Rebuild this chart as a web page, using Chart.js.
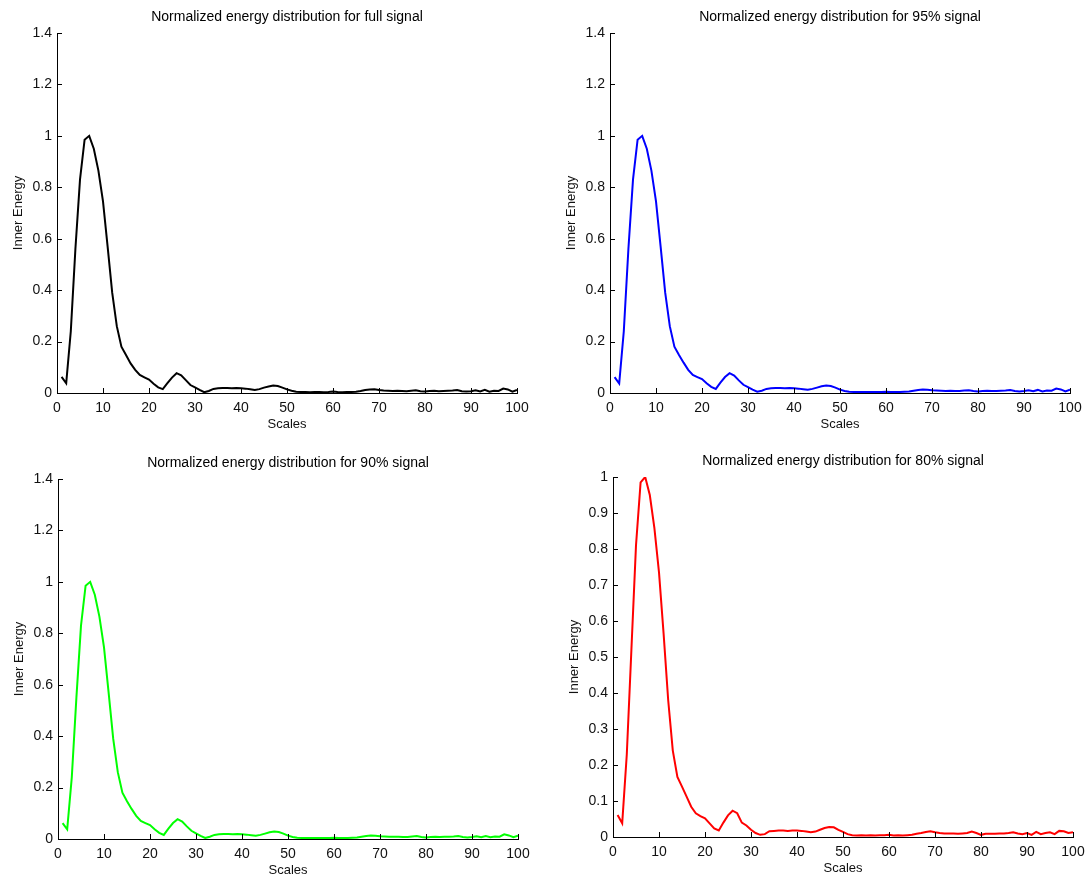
<!DOCTYPE html>
<html>
<head>
<meta charset="utf-8">
<title>Normalized energy distribution</title>
<script src="https://cdn.jsdelivr.net/npm/chart.js@4"></script>
<style>
  html, body { margin: 0; padding: 0; background: #fff; overflow: hidden; }
  body { width: 1088px; height: 878px; position: relative; }
  .panel { position: absolute; }
</style>
</head>
<body>
<div class="panel" style="left:0px;top:0px"><canvas id="c1" width="532" height="438"></canvas></div>
<div class="panel" style="left:553px;top:0px"><canvas id="c2" width="532" height="438"></canvas></div>
<div class="panel" style="left:1px;top:446px"><canvas id="c3" width="532" height="438"></canvas></div>
<div class="panel" style="left:556px;top:444px"><canvas id="c4" width="532" height="438"></canvas></div>
<script>
//-----------------------------------------
//  DATA
//-----------------------------------------

const scales = [
  1, 2, 3, 4, 5, 6, 7, 8, 9, 10, 11, 12, 13, 14, 15, 16, 17, 18, 19, 20,
  21, 22, 23, 24, 25, 26, 27, 28, 29, 30, 31, 32, 33, 34, 35, 36, 37, 38, 39, 40,
  41, 42, 43, 44, 45, 46, 47, 48, 49, 50, 51, 52, 53, 54, 55, 56, 57, 58, 59, 60,
  61, 62, 63, 64, 65, 66, 67, 68, 69, 70, 71, 72, 73, 74, 75, 76, 77, 78, 79, 80,
  81, 82, 83, 84, 85, 86, 87, 88, 89, 90, 91, 92, 93, 94, 95, 96, 97, 98, 99, 100
];

const fullSignal = [
  0.063, 0.038, 0.24, 0.56, 0.83, 0.985, 1.0, 0.95, 0.865, 0.745,
  0.57, 0.39, 0.26, 0.18, 0.148, 0.115, 0.09, 0.07, 0.061, 0.052,
  0.036, 0.022, 0.015, 0.038, 0.06, 0.077, 0.069, 0.05, 0.031, 0.022,
  0.012, 0.003, 0.008, 0.016, 0.018, 0.019, 0.019, 0.018, 0.019, 0.018,
  0.017, 0.015, 0.012, 0.015, 0.021, 0.025, 0.029, 0.027, 0.021, 0.014,
  0.009, 0.005, 0.004, 0.004, 0.003, 0.004, 0.004, 0.003, 0.004, 0.006,
  0.004, 0.003, 0.004, 0.004, 0.005, 0.008, 0.012, 0.014, 0.015, 0.012,
  0.010, 0.009, 0.008, 0.009, 0.008, 0.007, 0.009, 0.011, 0.007, 0.006,
  0.008, 0.009, 0.007, 0.008, 0.009, 0.010, 0.012, 0.007, 0.006, 0.007,
  0.011, 0.006, 0.012, 0.005, 0.009, 0.008, 0.017, 0.014, 0.005, 0.012
];

const signal95 = [
  0.062, 0.037, 0.24, 0.56, 0.83, 0.985, 1.0, 0.95, 0.865, 0.745,
  0.57, 0.39, 0.26, 0.18, 0.148, 0.118, 0.09, 0.07, 0.062, 0.054,
  0.038, 0.024, 0.016, 0.04, 0.062, 0.077, 0.068, 0.049, 0.032, 0.023,
  0.013, 0.005, 0.009, 0.016, 0.018, 0.019, 0.019, 0.018, 0.019, 0.018,
  0.017, 0.015, 0.013, 0.016, 0.021, 0.026, 0.029, 0.027, 0.021, 0.013,
  0.008, 0.005, 0.004, 0.004, 0.004, 0.004, 0.004, 0.004, 0.004, 0.005,
  0.004, 0.004, 0.004, 0.005, 0.006, 0.009, 0.012, 0.014, 0.013, 0.011,
  0.010, 0.009, 0.008, 0.009, 0.008, 0.008, 0.010, 0.011, 0.008, 0.006,
  0.008, 0.009, 0.008, 0.008, 0.009, 0.010, 0.012, 0.008, 0.006, 0.008,
  0.011, 0.007, 0.012, 0.006, 0.010, 0.009, 0.017, 0.014, 0.006, 0.013
];

const signal90 = [
  0.062, 0.038, 0.24, 0.55, 0.83, 0.985, 1.0, 0.95, 0.865, 0.745,
  0.57, 0.39, 0.26, 0.18, 0.147, 0.117, 0.09, 0.07, 0.062, 0.054,
  0.038, 0.024, 0.016, 0.04, 0.062, 0.077, 0.068, 0.049, 0.032, 0.022,
  0.012, 0.004, 0.009, 0.016, 0.018, 0.019, 0.019, 0.018, 0.019, 0.018,
  0.017, 0.015, 0.013, 0.016, 0.021, 0.026, 0.029, 0.027, 0.021, 0.013,
  0.008, 0.005, 0.004, 0.004, 0.004, 0.004, 0.004, 0.004, 0.004, 0.005,
  0.004, 0.004, 0.004, 0.005, 0.006, 0.009, 0.012, 0.014, 0.013, 0.011,
  0.010, 0.009, 0.009, 0.009, 0.008, 0.008, 0.010, 0.012, 0.008, 0.006,
  0.008, 0.009, 0.008, 0.009, 0.009, 0.010, 0.012, 0.008, 0.006, 0.008,
  0.011, 0.007, 0.012, 0.007, 0.010, 0.009, 0.018, 0.014, 0.007, 0.013
];

const signal80 = [
  0.061, 0.038, 0.23, 0.52, 0.81, 0.985, 1.0, 0.95, 0.858, 0.735,
  0.565, 0.38, 0.24, 0.167, 0.14, 0.112, 0.084, 0.066, 0.058, 0.052,
  0.038, 0.024, 0.018, 0.04, 0.06, 0.073, 0.066, 0.04, 0.032, 0.02,
  0.011, 0.006, 0.008, 0.016, 0.017, 0.018, 0.018, 0.017, 0.018, 0.018,
  0.017, 0.015, 0.013, 0.015, 0.02, 0.025, 0.028, 0.027, 0.02, 0.014,
  0.008, 0.005, 0.004, 0.005, 0.004, 0.005, 0.004, 0.005, 0.005, 0.006,
  0.004, 0.005, 0.004, 0.005, 0.006, 0.009, 0.011, 0.014, 0.016, 0.013,
  0.011, 0.010, 0.010, 0.010, 0.009, 0.010, 0.011, 0.015, 0.011, 0.006,
  0.009, 0.009, 0.009, 0.010, 0.010, 0.011, 0.013, 0.010, 0.008, 0.011,
  0.006, 0.014, 0.008, 0.011, 0.013, 0.008, 0.017, 0.016, 0.011, 0.013
];

const xTicks = [0, 10, 20, 30, 40, 50, 60, 70, 80, 90, 100];
const yTicksWide = [0, 0.2, 0.4, 0.6, 0.8, 1, 1.2, 1.4];
const yTicksFine = [0, 0.1, 0.2, 0.3, 0.4, 0.5, 0.6, 0.7, 0.8, 0.9, 1];

const panelTitles = [
  'Normalized energy distribution for full signal',
  'Normalized energy distribution for 95% signal',
  'Normalized energy distribution for 90% signal',
  'Normalized energy distribution for 80% signal'
];

//-----------------------------------------
//  MATLAB-ish look: inward ticks, title over plot
//-----------------------------------------

const FONT = '"Liberation Sans", Arial, sans-serif';
Chart.defaults.font.family = FONT;
Chart.defaults.font.size = 13;
Chart.defaults.color = '#111';

const matlabAxes = {
  id: 'matlabAxes',
  afterDraw(chart, args, opts) {
    const ctx = chart.ctx;
    const xs = chart.scales.x;
    const ys = chart.scales.y;
    const area = chart.chartArea;

    ctx.save();
    ctx.strokeStyle = '#000';
    ctx.lineWidth = 1;
    ctx.beginPath();
    xs.ticks.forEach(t => {
      const px = Math.round(xs.getPixelForValue(t.value)) + 0.5;
      ctx.moveTo(px, area.bottom);
      ctx.lineTo(px, area.bottom - 5);
    });
    ys.ticks.forEach(t => {
      const py = Math.round(ys.getPixelForValue(t.value)) + 0.5;
      ctx.moveTo(area.left, py);
      ctx.lineTo(area.left + 5, py);
    });
    ctx.stroke();

    // title centred on the plot box, not on the canvas
    ctx.fillStyle = '#000';
    ctx.font = '14px ' + FONT;
    ctx.textAlign = 'center';
    ctx.textBaseline = 'middle';
    ctx.fillText(opts.text, (area.left + area.right) / 2, 17);
    ctx.restore();
  }
};

function makePanel(canvasId, title, values, color, yTicks, yMax) {
  const points = scales.map((s, i) => ({ x: s, y: values[i] }));

  return new Chart(document.getElementById(canvasId), {
    type: 'line',
    data: {
      datasets: [{
        data: points,
        borderColor: color,
        borderWidth: 2,
        pointRadius: 0,
        tension: 0,
        fill: false
      }]
    },
    options: {
      responsive: false,
      animation: false,
      layout: { padding: { top: 33, right: 15, left: 0, bottom: 0 } },
      plugins: {
        legend: { display: false },
        tooltip: { enabled: false },
        title: { display: false },
        matlabAxes: { text: title }
      },
      scales: {
        x: {
          type: 'linear',
          min: 0,
          max: 100,
          afterBuildTicks: s => { s.ticks = xTicks.map(v => ({ value: v })); },
          afterFit: s => {
            s.height = 45;
            s.paddingLeft = 0;
            s.paddingRight = 0;
          },
          grid: { display: false, drawTicks: false },
          border: { display: true, color: '#000', width: 1 },
          ticks: {
            padding: 7, color: '#111', font: { size: 14 },
            minRotation: 0, maxRotation: 0, autoSkip: false,
            callback: v => String(v)
          },
          title: {
            display: true,
            text: 'Scales',
            color: '#111',
            padding: { top: 0, bottom: 6 }
          }
        },
        y: {
          type: 'linear',
          min: 0,
          max: yMax,
          afterBuildTicks: s => { s.ticks = yTicks.map(v => ({ value: v })); },
          afterFit: s => {
            s.width = 57;
            s.paddingTop = 0;
            s.paddingBottom = 0;
          },
          grid: { display: false, drawTicks: false },
          border: { display: true, color: '#000', width: 1 },
          ticks: { padding: 5, color: '#111', font: { size: 14 }, callback: v => String(v) },
          title: {
            display: true,
            text: 'Inner Energy',
            color: '#111',
            padding: { top: 11, bottom: 0 }
          }
        }
      }
    },
    plugins: [matlabAxes]
  });
}

makePanel('c1', panelTitles[0], fullSignal, '#000000', yTicksWide, 1.4);
makePanel('c2', panelTitles[1], signal95, '#0000ff', yTicksWide, 1.4);
makePanel('c3', panelTitles[2], signal90, '#00ff00', yTicksWide, 1.4);
makePanel('c4', panelTitles[3], signal80, '#ff0000', yTicksFine, 1);
</script>
</body>
</html>
